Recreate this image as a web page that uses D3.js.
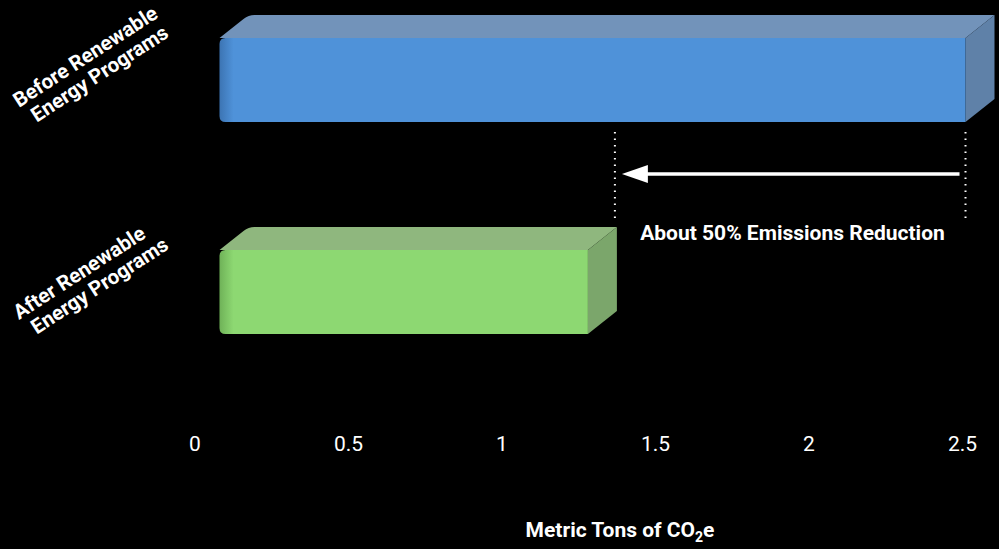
<!DOCTYPE html>
<html>
<head>
<meta charset="utf-8">
<script src="https://cdn.jsdelivr.net/npm/d3@7"></script>
<style>
  html, body { margin: 0; padding: 0; background: #000; }
  svg { display: block; }
  text { font-family: Roboto, "Noto Sans", sans-serif; fill: #fff; }
</style>
</head>
<body>
<svg id="chart" width="999" height="549"></svg>
<script>
// Emissions before and after the renewable energy programs (metric tons CO2e)
const categories = ["Before Renewable Energy Programs", "After Renewable Energy Programs"];
const labelLines = [["Before Renewable", "Energy Programs"], ["After Renewable", "Energy Programs"]];
const emissions = [2.43, 1.2];
const tickValues = [0, 0.5, 1, 1.5, 2, 2.5];
const tickLabels = ["0", "0.5", "1", "1.5", "2", "2.5"];
const annotation = "About 50% Emissions Reduction";

const faceColors = [
  { front: "#4f92d9", edge: "#3c74b3", top: "#7293ba", side: "#5f81a8" },
  { front: "#8dd872", edge: "#6fb258", top: "#8fb77e", side: "#7ba66b" }
];

const svg = d3.select("#chart");

const x = d3.scaleLinear().domain([0, 2.5]).range([194.5, 962]);
const y = d3.scalePoint().domain(categories).range([80, 292]);

const barH = 84;          // front face height
const depthX = 29, depthY = 23; // 3D depth offsets
const floorShift = 25;    // front plane shift from the value axis

const defs = svg.append("defs");

emissions.forEach((v, i) => {
  const c = faceColors[i];
  const cy = y(categories[i]);
  const x0 = x(0) + floorShift;
  const x1 = x(v) + floorShift;
  const yt = cy - barH / 2, yb = cy + barH / 2;
  const g = svg.append("g");

  // left edge shading of front face
  const grad = defs.append("linearGradient")
    .attr("id", "edge" + i)
    .attr("gradientUnits", "userSpaceOnUse")
    .attr("x1", x0).attr("x2", x0 + 14).attr("y1", 0).attr("y2", 0);
  grad.append("stop").attr("offset", 0).attr("stop-color", c.edge);
  grad.append("stop").attr("offset", 1).attr("stop-color", c.front);

  // top face
  const r = 6;
  g.append("path")
    .attr("d", `M${x0},${yt} L${x0 + depthX - 5},${yt - depthY + 4} Q${x0 + depthX},${yt - depthY} ${x0 + depthX + 6},${yt - depthY} L${x1 + depthX},${yt - depthY} L${x1},${yt} Z`)
    .attr("fill", c.top);

  // right face
  g.append("path")
    .attr("d", `M${x1},${yt} L${x1 + depthX},${yt - depthY} L${x1 + depthX},${yb - depthY} L${x1},${yb} Z`)
    .attr("fill", c.side);

  // front face with rounded left corners
  g.append("path")
    .attr("d", `M${x0 + r},${yt} L${x1},${yt} L${x1},${yb} L${x0 + r},${yb} Q${x0},${yb} ${x0},${yb - r} L${x0},${yt + r} Q${x0},${yt} ${x0 + r},${yt} Z`)
    .attr("fill", `url(#edge${i})`);
});

// value axis labels
const axis = d3.axisBottom(x).tickValues(tickValues)
  .tickFormat((d, i) => tickLabels[i]).tickSize(0).tickPadding(0);
const axisG = svg.append("g").attr("transform", "translate(0,436)").call(axis);
axisG.select(".domain").remove();
axisG.selectAll("text")
  .attr("dy", "0.71em")
  .style("font-family", "Roboto, sans-serif")
  .style("font-size", "21px")
  .attr("fill", "#fff");

// axis title with subscript
const title = svg.append("text")
  .attr("x", 620).attr("y", 537)
  .attr("text-anchor", "middle")
  .style("font-size", "21px").style("font-weight", "bold");
title.append("tspan").text("Metric Tons of CO");
title.append("tspan").text("2").attr("dy", 5).style("font-size", "14px");
title.append("tspan").text("e").attr("dy", -5);

// category labels, rotated
categories.forEach((cat, i) => {
  const cy = y(cat);
  const t = svg.append("text")
    .attr("transform", `translate(19,${cy + 28}) rotate(-33)`)
    .style("font-size", "20.5px").style("font-weight", "bold");
  labelLines[i].forEach((line, j) => {
    t.append("tspan").attr("x", j === 0 ? 0 : 7).attr("dy", j === 0 ? 0 : 22).text(line);
  });
});

// reduction marker: dotted guides and arrow
const xBlueEnd = x(emissions[0]) + floorShift;
const xGreenEnd = x(emissions[1]) + floorShift + depthX;
[xGreenEnd - 2, xBlueEnd].forEach(xx => {
  svg.append("line")
    .attr("x1", xx).attr("x2", xx).attr("y1", 132).attr("y2", 220)
    .attr("stroke", "#fff").attr("stroke-width", 2)
    .attr("stroke-dasharray", "1.5,5").attr("stroke-linecap", "butt");
});

const arrowY = 174;
const tipX = xGreenEnd + 5;
svg.append("line")
  .attr("x1", xBlueEnd - 6).attr("x2", tipX + 20)
  .attr("y1", arrowY).attr("y2", arrowY)
  .attr("stroke", "#fff").attr("stroke-width", 3.5);
svg.append("path")
  .attr("d", `M${tipX},${arrowY} L${tipX + 26},${arrowY - 9} L${tipX + 26},${arrowY + 9} Z`)
  .attr("fill", "#fff");

svg.append("text")
  .attr("x", 792.5).attr("y", 240)
  .attr("text-anchor", "middle")
  .style("font-size", "21px").style("font-weight", "bold")
  .text(annotation);
</script>
</body>
</html>
